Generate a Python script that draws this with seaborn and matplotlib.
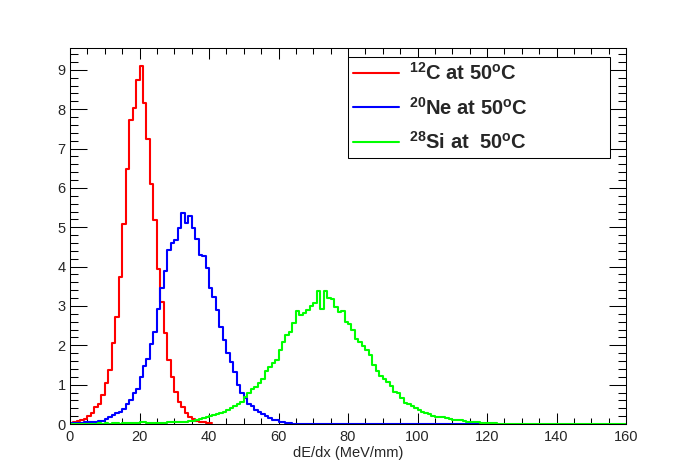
import numpy as np
import pandas as pd
import matplotlib
matplotlib.use("Agg")
import matplotlib.pyplot as plt
import seaborn as sns
from matplotlib.ticker import MultipleLocator

# bin contents, bins of width 1 MeV/mm starting at 0
red_counts = [0.02, 0.04, 0.07, 0.10, 0.13, 0.20, 0.27, 0.42, 0.52, 0.73,
              1.05, 1.37, 2.06, 2.72, 3.73, 5.08, 6.47, 7.72, 8.04, 8.73,
              9.10, 8.17, 7.23, 6.10, 5.19, 3.94, 3.09, 2.31, 1.62, 1.20,
              0.82, 0.57, 0.42, 0.29, 0.19, 0.12, 0.07, 0.06, 0.04, 0.03,
              0.02]

blue_counts = [0.02, 0.02, 0.03, 0.03, 0.04, 0.05, 0.06, 0.06, 0.07, 0.08,
               0.12, 0.17, 0.23, 0.27, 0.30, 0.38, 0.50, 0.62, 0.78, 0.90,
               1.20, 1.47, 1.66, 2.04, 2.34, 2.91, 3.46, 3.88, 4.42, 4.60,
               4.68, 4.98, 5.35, 5.11, 5.28, 4.98, 4.70, 4.30, 4.26, 3.96,
               3.46, 3.22, 2.90, 2.46, 2.13, 1.80, 1.58, 1.32, 1.00, 0.80,
               0.67, 0.52, 0.45, 0.36, 0.30, 0.25, 0.20, 0.14, 0.10, 0.09,
               0.06, 0.05, 0.03, 0.02, 0.01, 0.01, 0.00, 0.00, 0.00, 0.00,
               0.00, 0.00, 0.00, 0.00, 0.00, 0.00, 0.00, 0.00, 0.00, 0.00,
               0.00, 0.00, 0.00, 0.00, 0.00, 0.00, 0.00, 0.00, 0.00, 0.00,
               0.00, 0.00, 0.00, 0.00, 0.00, 0.00, 0.00, 0.00, 0.00, 0.00,
               0.00, 0.00, 0.00, 0.00, 0.00, 0.00, 0.00, 0.00, 0.00, 0.00,
               0.00, 0.00, 0.00, 0.00, 0.00, 0.00, 0.00, 0.00, 0.00, 0.00,
               0.00, 0.00, 0.00]

green_counts = [0.01, 0.01, 0.01, 0.01, 0.01, 0.01, 0.01, 0.01, 0.02, 0.01,
                0.02, 0.01, 0.02, 0.02, 0.01, 0.02, 0.02, 0.02, 0.02, 0.03,
                0.05, 0.04, 0.02, 0.02, 0.03, 0.03, 0.03, 0.03, 0.04, 0.04,
                0.04, 0.05, 0.05, 0.06, 0.07, 0.07, 0.10, 0.12, 0.16, 0.19,
                0.20, 0.23, 0.25, 0.27, 0.31, 0.35, 0.40, 0.46, 0.50, 0.56,
                0.68, 0.79, 0.89, 0.95, 1.05, 1.14, 1.35, 1.45, 1.55, 1.62,
                1.89, 2.08, 2.25, 2.34, 2.57, 2.87, 2.78, 2.83, 2.90, 2.99,
                3.07, 3.38, 2.93, 3.38, 3.21, 3.18, 2.97, 2.84, 2.87, 2.59,
                2.53, 2.38, 2.17, 2.08, 1.98, 1.87, 1.75, 1.49, 1.35, 1.22,
                1.15, 1.07, 0.96, 0.82, 0.79, 0.65, 0.54, 0.51, 0.46, 0.40,
                0.35, 0.31, 0.29, 0.25, 0.21, 0.17, 0.17, 0.17, 0.16, 0.13,
                0.09, 0.09, 0.09, 0.08, 0.06, 0.06, 0.06, 0.05, 0.03, 0.03,
                0.03, 0.03, 0.02, 0.01, 0.00, 0.00, 0.00, 0.00, 0.00, 0.00,
                0.00, 0.00, 0.00, 0.00, 0.00, 0.00, 0.00, 0.00, 0.00, 0.00,
                0.00, 0.00, 0.00, 0.00, 0.00, 0.00, 0.00, 0.00, 0.00, 0.00,
                0.00, 0.00, 0.00, 0.00, 0.00, 0.00, 0.00, 0.00, 0.00, 0.00]

labels = [r"$^{\mathbf{12}}$C at 50$^{\mathbf{o}}$C",
          r"$^{\mathbf{20}}$Ne at 50$^{\mathbf{o}}$C",
          r"$^{\mathbf{28}}$Si at  50$^{\mathbf{o}}$C"]
colors = ["#ff0000", "#0000ff", "#00ff00"]
bin_width = 1.0

sns.set_style("ticks")
plt.rcParams["font.family"] = ["Liberation Sans", "DejaVu Sans"]
plt.rcParams["mathtext.fontset"] = "custom"
plt.rcParams["mathtext.rm"] = "Liberation Sans:bold"
plt.rcParams["mathtext.bf"] = "Liberation Sans:bold"
plt.rcParams["mathtext.it"] = "Liberation Sans:bold"

fig = plt.figure(figsize=(6.96, 4.72), dpi=100)
fig.patch.set_facecolor("white")
ax = fig.add_axes([70/696, 1-424/472, 556/696, 376/472])

for counts, col, lab in zip([red_counts, blue_counts, green_counts], colors, labels):
    n = len(counts)
    edges = list(np.arange(n + 1) * bin_width)
    df = pd.DataFrame({"x": np.array(edges[:-1]) + bin_width/2, "w": counts})
    sns.histplot(data=df, x="x", weights="w", bins=edges, element="step",
                 fill=False, color=col, linewidth=1.5, ax=ax, label=lab)

ax.set_xlim(0, 160)
ax.set_ylim(0, 9.555)
ax.xaxis.set_major_locator(MultipleLocator(20))
ax.xaxis.set_minor_locator(MultipleLocator(5))
ax.yaxis.set_major_locator(MultipleLocator(1))
ax.yaxis.set_minor_locator(MultipleLocator(0.2))
ax.tick_params(which="both", direction="in", top=True, right=True,
               width=0.75, color="black", labelsize=10.5)
ax.tick_params(axis="x", which="major", length=7.9, pad=4)
ax.tick_params(axis="x", which="minor", length=4)
ax.tick_params(axis="y", which="major", length=12.2, pad=3)
ax.tick_params(axis="y", which="minor", length=6.1)
for sp in ax.spines.values():
    sp.set_linewidth(0.75)
    sp.set_color("black")
ax.set_xlabel("dE/dx (MeV/mm)", fontsize=10.5, labelpad=2)
ax.set_ylabel("")

# legend box in pixels: x 348..610, y 57..156
leg = ax.legend(loc="upper left", bbox_to_anchor=(348/696, 1-156/472, 262/696, 99/472),
                bbox_transform=fig.transFigure, mode="expand", borderaxespad=0,
                prop={"weight": "bold", "size": 14.5}, frameon=True, fancybox=False,
                edgecolor="black", framealpha=1, handlelength=2.3,
                handletextpad=0.5, labelspacing=0.62, borderpad=0.25)
leg.get_frame().set_linewidth(0.75)

fig.savefig("out.png", dpi=100)
